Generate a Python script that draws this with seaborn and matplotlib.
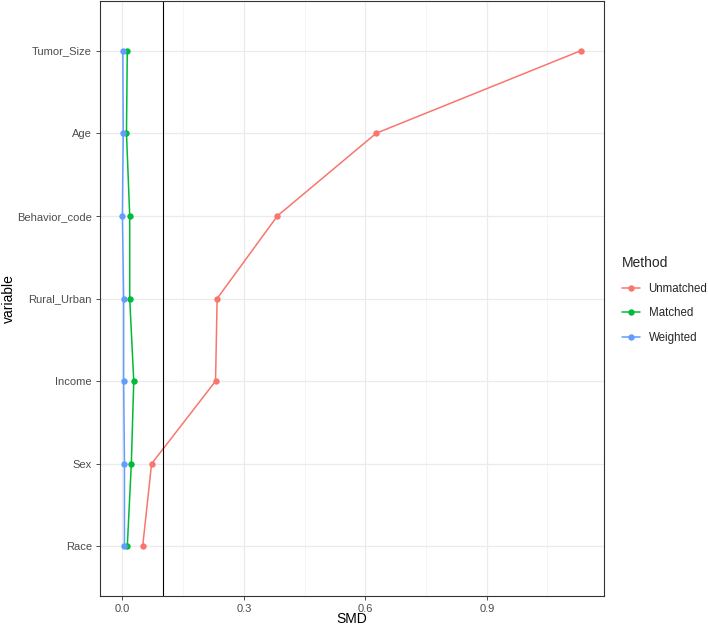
import numpy as np
import pandas as pd
import seaborn as sns
import matplotlib.pyplot as plt
from matplotlib.lines import Line2D
from matplotlib.ticker import MultipleLocator

# ==========================================
# 1. DATA
# ==========================================
variables = ["Race", "Sex", "Income", "Rural_Urban", "Behavior_code", "Age", "Tumor_Size"]
unmatched = [0.050, 0.072, 0.230, 0.234, 0.383, 0.627, 1.133]
matched = [0.012, 0.022, 0.028, 0.018, 0.018, 0.010, 0.012]
weighted = [0.005, 0.005, 0.003, 0.003, 0.000, 0.002, 0.001]
methods = ["Unmatched", "Matched", "Weighted"]
colors = ["#F8766D", "#00BA38", "#619CFF"]
threshold = 0.1

pos = np.arange(len(variables))
df = pd.concat([
    pd.DataFrame({"variable": variables, "pos": pos, "SMD": vals, "Method": m})
    for m, vals in zip(methods, [unmatched, matched, weighted])
], ignore_index=True)

# ==========================================
# 2. STYLE
# ==========================================
sns.set_theme(style="whitegrid")
plt.rcParams['font.family'] = ['Liberation Sans', 'DejaVu Sans']

fig = plt.figure(figsize=(7.08, 6.28), dpi=100)
ax = fig.add_axes([99.5 / 708, 32 / 628, (604 - 99.5) / 708, (627 - 32) / 628])

# ==========================================
# 3. PLOT
# ==========================================
palette = dict(zip(methods, colors))
sns.lineplot(data=df, x="SMD", y="pos", hue="Method", hue_order=methods,
             palette=palette, sort=False, estimator=None, orient="y",
             marker="o", markersize=4.6, markeredgewidth=0, linewidth=1.1,
             legend=False, ax=ax)
ax.axvline(threshold, color="black", linewidth=0.8)

# ggplot-like limits (5% on continuous, 0.6 on discrete)
span = df["SMD"].max() - df["SMD"].min()
ax.set_xlim(df["SMD"].min() - 0.05 * span, df["SMD"].max() + 0.05 * span)
ax.set_ylim(-0.6, len(variables) - 0.4)

ax.xaxis.set_minor_locator(MultipleLocator(0.15))
ax.set_xticks([0.0, 0.3, 0.6, 0.9])
ax.set_xticklabels(["0.0", "0.3", "0.6", "0.9"])
ax.set_yticks(pos)
ax.set_yticklabels(variables)

ax.grid(which="major", color="#EBEBEB", linewidth=0.9)
ax.grid(which="minor", axis="x", color="#F2F2F2", linewidth=0.5)
ax.set_axisbelow(True)
for sp in ax.spines.values():
    sp.set_color("#333333")
    sp.set_linewidth(0.8)

ax.tick_params(which="major", length=3, width=0.6, color="#333333",
               labelsize=8, labelcolor="#4D4D4D", pad=2.5, bottom=True, left=True)
ax.tick_params(which="minor", length=0)

ax.set_xlabel("SMD", fontsize=10, color="black", va="center")
ax.set_ylabel("variable", fontsize=10, color="black", va="center")
ax.xaxis.set_label_coords(0.5, -(619 - 596) / 595)
ax.yaxis.set_label_coords(-(99.5 - 9) / 504.5, 0.5)

# Legend
handles = [Line2D([0], [0], color=c, linewidth=1.1, marker="o", markersize=4.6,
                  markeredgewidth=0) for c in colors]
leg = ax.legend(handles, methods, title="Method", loc="upper left",
                bbox_to_anchor=(622 / 708, 1 - 256 / 628),
                bbox_transform=fig.transFigure, frameon=False,
                fontsize=8.3, title_fontsize=10, handlelength=1.55,
                handletextpad=0.75, labelspacing=1.1, borderaxespad=0,
                borderpad=0)
leg._legend_box.align = "left"

fig.savefig("out.png", dpi=100)
plt.close()
